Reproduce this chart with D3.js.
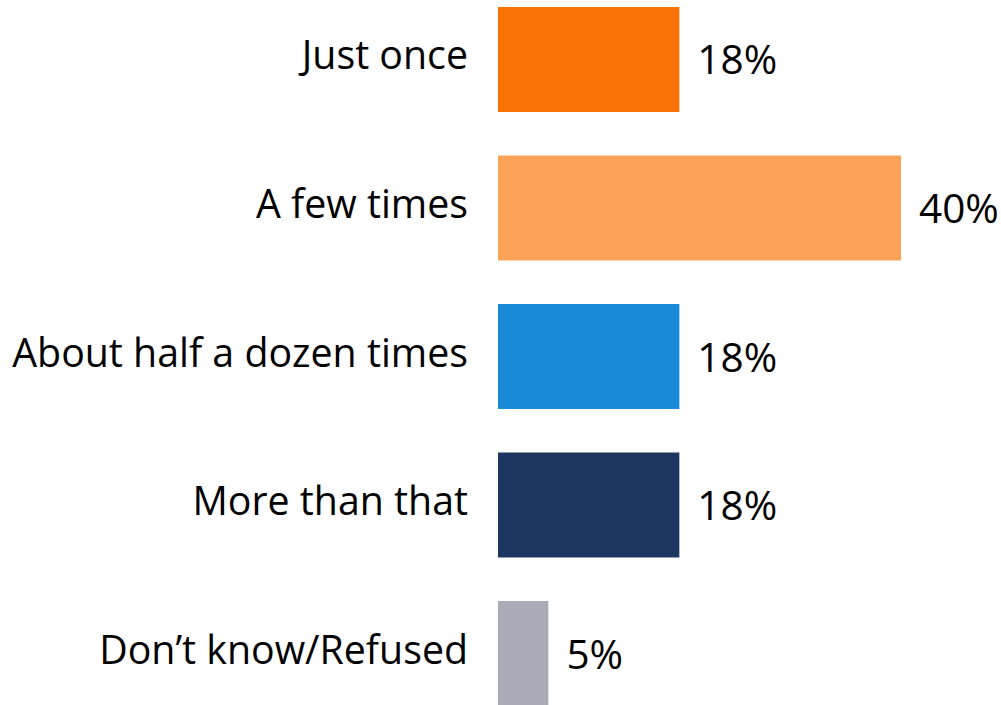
<!DOCTYPE html>
<html><head><meta charset="utf-8">
<script src="https://cdn.jsdelivr.net/npm/d3@7"></script>
<style>body{margin:0;background:#fff}svg{display:block}</style>
</head><body>
<script>
const categories = ["Just once", "A few times", "About half a dozen times", "More than that", "Don\u2019t know/Refused"];
const values = [18, 40, 18, 18, 5];
const valueLabels = ["18%", "40%", "18%", "18%", "5%"];
const colors = ["#F77305", "#FBA256", "#188AD8", "#1D3660", "#A9ABB9"];

const W = 1001, H = 705;
const svg = d3.select("body").append("svg").attr("width", W).attr("height", H);
const font = "'Open Sans', sans-serif";

const x = d3.scaleLinear().domain([0, 40]).range([498, 901]);
const y = d3.scaleBand().domain(categories).range([7, 706]).paddingInner(0.293).paddingOuter(0);

svg.selectAll("rect.bar").data(categories).join("rect")
  .attr("class", "bar")
  .attr("x", x(0))
  .attr("y", d => y(d))
  .attr("width", (d, i) => x(values[i]) - x(0))
  .attr("height", y.bandwidth())
  .attr("fill", (d, i) => colors[i]);

svg.selectAll("text.cat").data(categories).join("text")
  .attr("class", "cat")
  .attr("x", 468)
  .attr("y", d => y(d) + y.bandwidth() / 2 + 10)
  .attr("text-anchor", "end")
  .attr("font-family", font)
  .attr("font-size", 39.3)
  .attr("fill", "#000")
  .text(d => d);

svg.selectAll("text.val").data(categories).join("text")
  .attr("class", "val")
  .attr("x", (d, i) => x(values[i]) + 18)
  .attr("y", d => y(d) + y.bandwidth() / 2 + 15)
  .attr("font-family", font)
  .attr("font-size", 40.5)
  .attr("fill", "#000")
  .text((d, i) => valueLabels[i]);
</script>
</body></html>
